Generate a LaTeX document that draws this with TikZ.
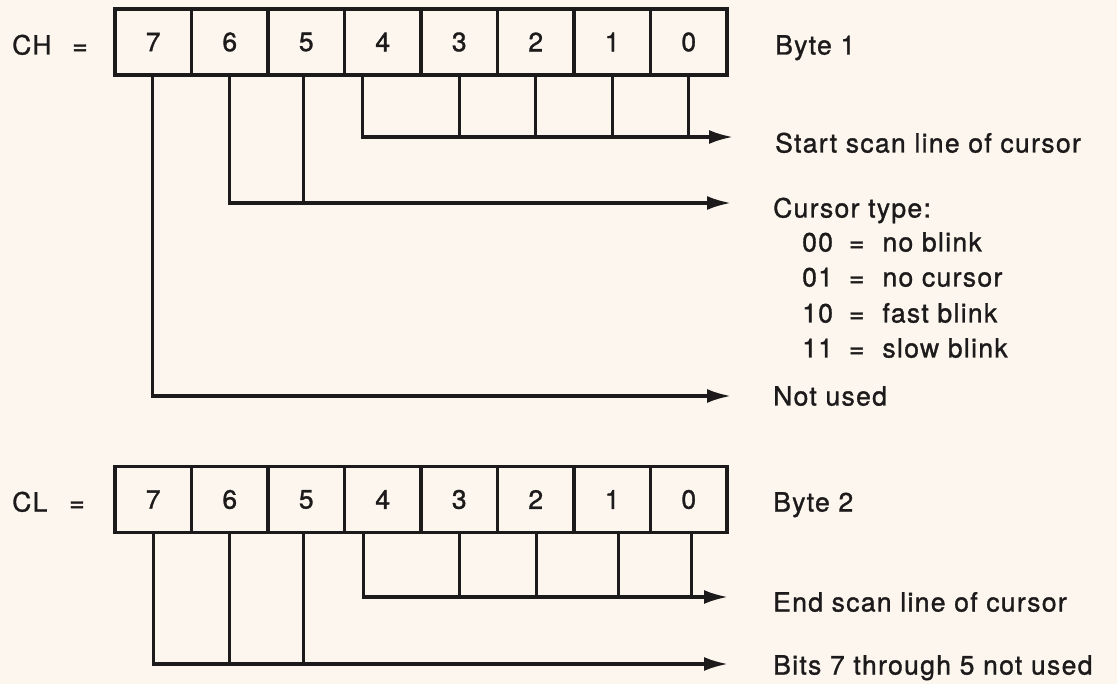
\documentclass[tikz,border=0pt]{standalone}
\usepackage{fontspec}
\setmainfont{TeX Gyre Heros}[LetterSpace=5.0,FakeBold=1.2]
\usetikzlibrary{arrows.meta}
\definecolor{paper}{RGB}{252,246,239}
\definecolor{ink}{RGB}{28,26,26}
\tikzset{
  cell/.style={draw=ink, line width=3.2pt, minimum width=76.5pt, minimum height=66pt, inner sep=0pt, outer sep=0pt, text=ink, font=\fontsize{26.5}{30}\selectfont},
  lbl/.style={anchor=west, inner sep=0pt, text=ink, text height=19pt, text depth=0pt, font=\fontsize{26.5}{30}\selectfont},
  wire/.style={draw=ink, line width=3.2pt, line join=miter},
  arr/.style={wire, -{Latex[length=24pt,width=14pt]}}
}
\begin{document}
\begin{tikzpicture}[x=1pt,y=-1pt]
\fill[paper] (0,0) rectangle (1117,684);
\useasboundingbox (0,0) rectangle (1117,684);
% byte rows
\foreach \b [count=\i from 0] in {7,6,5,4,3,2,1,0}{
  \node[cell] (ch\b) at ({115+76.5*(\i+0.5)},42) {\b};
  \node[cell] (cl\b) at ({115+76.5*(\i+0.5)},499.5) {\b};
}
% left labels
\node[lbl] (chname) at (12,45) {CH};
\node[lbl] (cheq) at (72,45) {=};
\node[lbl] (clname) at (12,502) {CL};
\node[lbl] (cleq) at (69,502) {=};
% right labels
\node[lbl] (byte1) at (775,45) {Byte 1};
\node[lbl] (start) at (775,143) {Start scan line of cursor};
\node[lbl] (ctype) at (773,208) {Cursor type:};
\node[lbl] (t00) at (802,242) {00\hskip 16pt=\hskip 18pt no blink};
\node[lbl] (t01) at (802,277) {01\hskip 16pt=\hskip 18pt no cursor};
\node[lbl] (t10) at (802,313) {10\hskip 16pt=\hskip 18pt fast blink};
\node[lbl] (t11) at (802,348) {11\hskip 16pt=\hskip 18pt slow blink};
\node[lbl] (notused) at (773,396) {Not used};
\node[lbl] (byte2) at (773,502) {Byte 2};
\node[lbl] (endscan) at (773,602) {End scan line of cursor};
\node[lbl] (bits) at (773,665) {Bits 7 through 5 not used};
% arrow end points
\coordinate (a1) at (733,137);
\coordinate (a2) at (731,203);
\coordinate (a3) at (731,396);
\coordinate (b1) at (728,597);
\coordinate (b2) at (728,664);
% CH connectors
\draw[arr] ([xshift=-20pt]ch4.south) |- (a1);
\foreach \b in {3,2,1,0}{ \draw[wire] (ch\b.south) -- (ch\b.south |- a1); }
\draw[arr] (ch6.south) |- (a2);
\draw[wire] ([xshift=-3pt]ch5.south) -- ([xshift=-3pt]ch5.south |- a2);
\draw[arr] ([xshift=-1pt]ch7.south) |- (a3);
% CL connectors
\draw[arr] ([xshift=-19pt]cl4.south) |- (b1);
\draw[wire] (cl3.south) -- (cl3.south |- b1);
\draw[wire] ([xshift=1pt]cl2.south) -- ([xshift=1pt]cl2.south |- b1);
\draw[wire] ([xshift=6pt]cl1.south) -- ([xshift=6pt]cl1.south |- b1);
\draw[wire] ([xshift=3pt]cl0.south) -- ([xshift=3pt]cl0.south |- b1);
\draw[arr] (cl7.south) |- (b2);
\draw[wire] (cl6.south) -- (cl6.south |- b2);
\draw[wire] ([xshift=-3pt]cl5.south) -- ([xshift=-3pt]cl5.south |- b2);
\end{tikzpicture}
\end{document}
